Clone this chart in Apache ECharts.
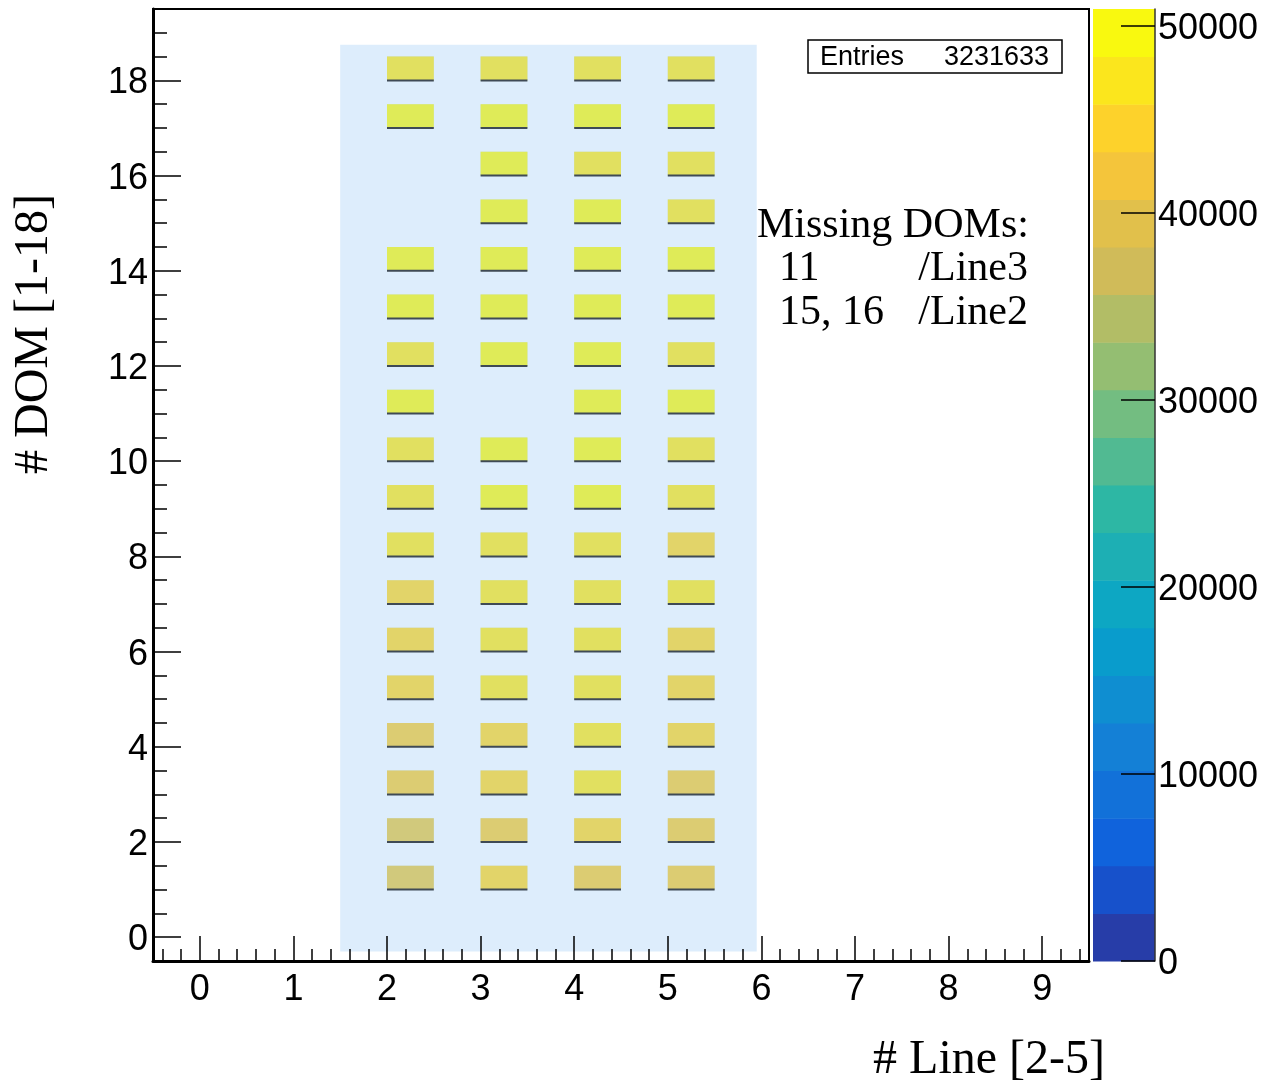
<!DOCTYPE html>
<html><head><meta charset="utf-8">
<script src="https://cdn.jsdelivr.net/npm/echarts@6/dist/echarts.min.js"></script>
<style>html,body{margin:0;padding:0;background:#fff}#c{width:1279px;height:1086px}</style>
</head><body><div id="c"></div>
<script>
// ---- data ----
const lineNumbers = [2, 3, 4, 5];
const domNumbers = [1, 2, 3, 4, 5, 6, 7, 8, 9, 10, 11, 12, 13, 14, 15, 16, 17, 18];
// hits per DOM (DOM 1..18), null = missing DOM
const line2 = [39300, 39800, 42100, 42600, 43900, 44800, 45200, 46900, 47600, 47300, 49300, 47800, 49800, 49500, null, null, 49500, 47200];
const line3 = [44900, 42400, 44600, 45100, 46700, 47100, 46900, 47400, 49200, 49600, null, 49400, 49800, 49700, 49400, 50900, 49800, 47000];
const line4 = [41900, 44700, 46100, 46600, 47000, 47300, 47500, 47700, 49100, 49400, 49700, 49500, 49300, 49600, 49500, 47900, 49600, 46800];
const line5 = [42193, 41800, 42800, 44000, 44400, 43640, 46100, 44600, 47100, 47500, 49000, 46900, 48800, 49400, 47800, 47600, 49200, 47100];
const zTickValues = [0, 10000, 20000, 30000, 40000, 50000];
const entriesLabel = 'Entries';
const entriesValue = '3231633';
const missingTitle = 'Missing DOMs:';
const missingRows = [['11', '/Line3'], ['15, 16', '/Line2']];
const xTitle = '# Line [2-5]';
const yTitle = '# DOM [1-18]';
const binWidth = 0.5;
const nLevels = 20;
const shadeX = [1.5, 5.95];
const shadeY = [-0.3, 18.75];

// ---- palette (ROOT kBird) ----
const stops = [0.0, 0.125, 0.25, 0.375, 0.5, 0.625, 0.75, 0.875, 1.0];
const pr = [0.2082, 0.0592, 0.0780, 0.0232, 0.1802, 0.5301, 0.8186, 0.9956, 0.9764];
const pg = [0.1664, 0.3599, 0.5041, 0.6419, 0.7178, 0.7492, 0.7328, 0.7862, 0.9832];
const pb = [0.5293, 0.8684, 0.8385, 0.7914, 0.6425, 0.4662, 0.3499, 0.1968, 0.0539];
function bird(f) {
  let k = 1; while (k < stops.length - 1 && f > stops[k]) k++;
  const t = (f - stops[k - 1]) / (stops[k] - stops[k - 1]);
  const c = a => Math.round(255 * (a[k - 1] + t * (a[k] - a[k - 1])));
  return 'rgb(' + c(pr) + ',' + c(pg) + ',' + c(pb) + ')';
}
const palette = [];
for (let i = 0; i < nLevels; i++) palette.push(bird(Math.floor((i + 0.99) * 255 / nLevels) / 255));

const lineSeries = [line2, line3, line4, line5];
const cells = [];
lineSeries.forEach((arr, li) => arr.forEach((v, di) => {
  if (v !== null) cells.push([lineNumbers[li], domNumbers[di], v]);
}));
const zmax = Math.max(...cells.map(c => c[2]));
const bandW = zmax / nLevels;
const bands = [];
for (let i = 0; i < nLevels; i++) bands.push([i * bandW, (i + 1) * bandW, i]);
const pieces = bands.map((b, i) => i === nLevels - 1 ? { gte: b[0], lte: zmax + 1, color: palette[i] } : { gte: b[0], lt: b[1], color: palette[i] });

const SANS = '"Liberation Sans", Arial, Helvetica, sans-serif';
const SERIF = '"Liberation Serif", "Times New Roman", serif';

const chart = echarts.init(document.getElementById('c'), null, { renderer: 'canvas' });
function txt(text, x, y, size, fam, align, extra) {
  return Object.assign({
    type: 'text', x: x, y: y, z: 100,
    style: { text: text, fontSize: size, fontFamily: fam, fill: '#000', align: align, verticalAlign: 'middle', textAlign: align, textVerticalAlign: 'middle' }
  }, extra || {});
}
const graphics = [
  { type: 'rect', z: 99, shape: { x: 808, y: 40, width: 254, height: 33 }, style: { fill: '#fff', stroke: '#000', lineWidth: 1.5 } },
  txt(entriesLabel, 820, 58, 27, SANS, 'left'),
  txt(entriesValue, 1049, 58, 27, SANS, 'right'),
  txt(missingTitle, 757, 226, 42, SERIF, 'left'),
  txt(missingRows[0][0], 779, 269, 42, SERIF, 'left'),
  txt(missingRows[0][1], 1028, 269, 42, SERIF, 'right'),
  txt(missingRows[1][0], 779, 313, 42, SERIF, 'left'),
  txt(missingRows[1][1], 1028, 313, 42, SERIF, 'right'),
  txt(xTitle, 1105, 1060, 48, SERIF, 'right'),
  txt(yTitle, 34, 334, 48, SERIF, 'center', { rotation: Math.PI / 2 })
];

const axisFont = { fontSize: 36, fontFamily: SANS, color: '#000' };
chart.setOption({
  animation: false,
  backgroundColor: '#fff',
  grid: [
    { left: 153, top: 9, width: 936, height: 952, show: true, borderColor: '#000', borderWidth: 2, backgroundColor: 'transparent', containLabel: false },
    { left: 1093, top: 9, width: 62, height: 952, show: false, containLabel: false }
  ],
  xAxis: [
    { type: 'value', gridIndex: 0, min: -0.5, max: 9.5, splitNumber: 10, z: 10,
      axisLine: { show: true, onZero: false, lineStyle: { color: '#000', width: 3 } },
      axisTick: { show: true, inside: true, length: 25, lineStyle: { color: '#000', width: 1.5 } },
      minorTick: { show: true, splitNumber: 5, length: 12, lineStyle: { color: '#000', width: 1.5 } },
      axisLabel: Object.assign({ margin: 11, showMinLabel: false, showMaxLabel: false, hideOverlap: false }, axisFont),
      splitLine: { show: false }, minorSplitLine: { show: false } },
    { type: 'value', gridIndex: 1, min: 0, max: 1, show: false }
  ],
  yAxis: [
    { type: 'value', gridIndex: 0, min: -0.5, max: 19.5, splitNumber: 10, z: 10,
      axisLine: { show: true, onZero: false, lineStyle: { color: '#000', width: 3 } },
      axisTick: { show: true, inside: true, length: 28, lineStyle: { color: '#000', width: 1.5 } },
      minorTick: { show: true, splitNumber: 4, length: 14, lineStyle: { color: '#000', width: 1.5 } },
      axisLabel: Object.assign({ margin: 5, verticalAlign: 'top', lineHeight: 6, showMinLabel: false, showMaxLabel: false, hideOverlap: false }, axisFont),
      splitLine: { show: false }, minorSplitLine: { show: false } },
    { type: 'value', gridIndex: 1, min: 0, max: zmax, position: 'right', z: 10,
      axisLine: { show: true, onZero: false, lineStyle: { color: '#333', width: 1.5 } },
      axisTick: { show: true, inside: true, length: 34, customValues: zTickValues, lineStyle: { color: '#000', width: 1.5 } },
      axisLabel: Object.assign({ margin: 3, verticalAlign: 'top', lineHeight: 6, customValues: zTickValues, hideOverlap: false, formatter: v => String(Math.round(v)) }, axisFont),
      splitLine: { show: false } }
  ],
  visualMap: {
    type: 'piecewise', show: false, dimension: 2, seriesIndex: 1, pieces: pieces
  },
  series: [
    { type: 'custom', xAxisIndex: 0, yAxisIndex: 0, silent: true, z: 1,
      data: [[shadeX[0], shadeY[0], shadeX[1], shadeY[1]]],
      renderItem: function (params, api) {
        const p0 = api.coord([api.value(0), api.value(3)]);
        const p1 = api.coord([api.value(2), api.value(1)]);
        return { type: 'rect', shape: { x: p0[0], y: p0[1], width: p1[0] - p0[0], height: p1[1] - p0[1] }, style: { fill: '#ddedfc' } };
      } },
    { type: 'custom', xAxisIndex: 0, yAxisIndex: 0, silent: true, z: 2,
      data: cells,
      encode: { x: 0, y: 1 },
      renderItem: function (params, api) {
        const x = api.value(0), y = api.value(1);
        const p0 = api.coord([x, y + binWidth]);
        const p1 = api.coord([x + binWidth, y]);
        const shape = { x: p0[0], y: p0[1], width: p1[0] - p0[0], height: p1[1] - p0[1] };
        return { type: 'group', children: [
          { type: 'rect', shape: shape, style: { fill: 'rgb(185,214,197)' } },
          { type: 'rect', shape: shape, style: { fill: api.visual('color'), opacity: 0.6 } },
          { type: 'line', shape: { x1: p0[0], y1: p1[1], x2: p1[0], y2: p1[1] }, style: { stroke: '#3f4a55', lineWidth: 2 } }
        ] };
      } },
    { type: 'custom', xAxisIndex: 1, yAxisIndex: 1, silent: true, z: 2,
      data: bands,
      renderItem: function (params, api) {
        const p0 = api.coord([0, api.value(1)]);
        const p1 = api.coord([1, api.value(0)]);
        return { type: 'rect', shape: { x: p0[0], y: p0[1], width: p1[0] - p0[0], height: p1[1] - p0[1] + 0.5 }, style: { fill: palette[api.value(2)] } };
      } }
  ],
  graphic: graphics
});
</script>
</body></html>
